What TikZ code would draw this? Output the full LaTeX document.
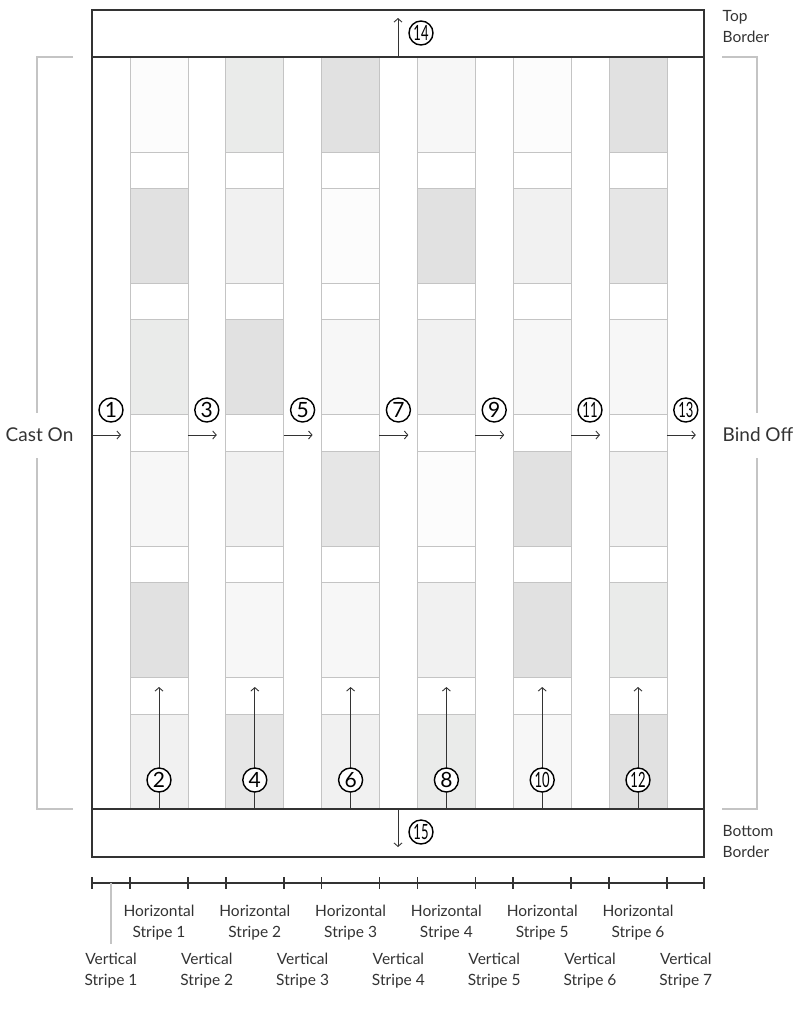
\documentclass[tikz,border=0pt]{standalone}
\usepackage{fontspec}
\setmainfont{Lato}
\usetikzlibrary{arrows.meta}
\definecolor{ink}{HTML}{333333}
\definecolor{rule}{HTML}{C4C4C4}
\definecolor{gA}{HTML}{FCFCFC}
\definecolor{gB}{HTML}{F7F7F7}
\definecolor{gC}{HTML}{F1F1F1}
\definecolor{gD}{HTML}{EAEBEA}
\definecolor{gE}{HTML}{E6E6E6}
\definecolor{gF}{HTML}{E1E1E1}
\newcommand\circtext[1]{\ifnum#1>9 \scalebox{.62}[1]{#1}\else #1\fi}
\tikzset{
  block/.style={draw=rule, line width=.9pt},
  frame/.style={draw=ink, line width=1.5pt},
  flow/.style={draw=ink, line width=.9pt, -{Straight Barb[length=3.5pt, width=8pt]}},
  bracket/.style={draw=rule, line width=1.1pt},
  circnum/.style={circle, draw=black, fill=white, line width=1.4pt,
    minimum size=24pt, inner sep=0pt, font=\fontsize{21}{21}\selectfont},
  sidetext/.style={text=ink, font=\fontsize{19}{22}\selectfont},
  stripetext/.style={text=ink, align=center, font=\fontsize{15.5}{21}\selectfont}
}
\begin{document}
\begin{tikzpicture}[x=1pt, y=-1pt, line width=.8pt]
  \useasboundingbox (0,0) rectangle (800,1013);
  \foreach \tones [count=\c] in {{A,F,D,B,F,C},{D,C,F,C,B,E},{F,A,B,E,B,C},
                                 {B,F,C,A,C,D},{A,C,B,F,F,B},{F,E,B,C,D,F}}
  {
    \pgfmathsetmacro\xl{130+95.8*(\c-1)}
    \draw[block] (\xl,57) rectangle ++(58,752);
    \foreach \t [count=\r] in \tones
      \draw[block, fill=g\t] (\xl,{57+131.4*(\r-1)}) rectangle ++(58,95);
  }
  \draw[frame] (92,10) rectangle (704,857);
  \draw[frame] (92,57) -- (704,57) (92,809) -- (704,809);
  \foreach \i [count=\k] in {1,3,...,13}
  {
    \pgfmathsetmacro\xs{92+95.8*(\k-1)}
    \coordinate (in\i) at (\xs,435);
    \coordinate (out\i) at (\xs+29,435);
    \draw[flow] (in\i) -- (out\i);
    \node[circnum] (n\i) at (\xs+19,410) {\circtext{\i}};
  }
  \foreach \i [count=\k] in {2,4,...,12}
  {
    \pgfmathsetmacro\xc{159+95.8*(\k-1)}
    \coordinate (bot\i) at (\xc,809);
    \coordinate (top\i) at (\xc,687);
    \draw[flow] (bot\i) -- (top\i);
    \node[circnum] (n\i) at (\xc,780) {\circtext{\i}};
  }
  \coordinate (tb) at (398,57);
  \coordinate (tbe) at (398,18);
  \draw[flow] (tb) -- (tbe);
  \node[circnum] (n14) at (421,33) {\circtext{14}};
  \coordinate (bb) at (398,809);
  \coordinate (bbe) at (398,847);
  \draw[flow] (bb) -- (bbe);
  \node[circnum] (n15) at (421,832) {\circtext{15}};
  \node[sidetext] (cast) at (39.5,435) {Cast On};
  \draw[bracket] (73,57) -- (37,57) -- (37,413) (37,458) -- (37,809) -- (73,809);
  \node[sidetext] (bind) at (758,435) {Bind Off};
  \draw[bracket] (722,57) -- (757,57) -- (757,413) (757,458) -- (757,809) -- (722,809);
  \node[stripetext, align=left, anchor=west] (topb) at (719,26) {Top\\Border};
  \node[stripetext, align=left, anchor=west] (botb) at (719,841) {Bottom\\Border};
  \draw[draw=ink, line width=1.2pt] (92,883) -- (704,883);
  \foreach \x in {92,704} \draw[ink, line width=1.6pt] (\x,877) -- (\x,889);
  \foreach \k in {0,...,5}
  {
    \draw[ink, line width=1.6pt] ({130+95.8*\k},877) -- ++(0,12);
    \draw[ink, line width=1.6pt] ({188+95.8*\k},877) -- ++(0,12);
  }
  \draw[bracket] (111,883) -- (111,944);
  \foreach \k in {1,...,6}
    \node[stripetext] (hs\k) at ({159+95.8*(\k-1)},922.5) {Horizontal\\Stripe \k};
  \foreach \k in {1,...,7}
    \node[stripetext] (vs\k) at ({111+95.8*(\k-1)},970.5) {Vertical\\Stripe \k};
\end{tikzpicture}
\end{document}
